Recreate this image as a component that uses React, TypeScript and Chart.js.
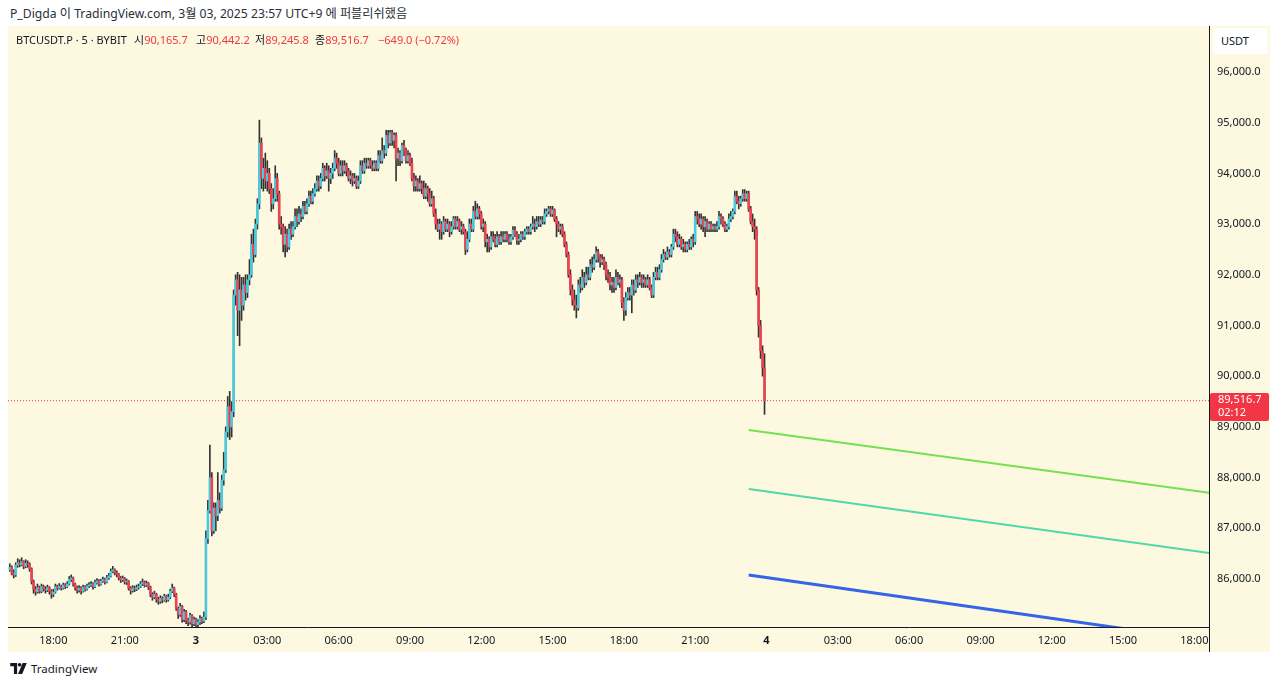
import React, { useEffect, useRef } from "react";
import { Chart, registerables } from "chart.js";

Chart.register(...registerables);

const FONT = '"Noto Sans", "Noto Sans CJK KR", sans-serif';

// time in hours relative to 2025-03-03 00:00 (UTC+9); first candle 16:10 on Mar 2, 5-minute bars
const START_HOUR = -7 - 50 / 60;
const INTERVAL_HOURS = 5 / 60;
const FIRST_OPEN = 86180;

const closes = [
  86230, 86120, 86080, 86270, 86320, 86280, 86340, 86250, 86310, 86290,
  86200, 85950, 85800, 85750, 85830, 85760, 85850, 85800, 85780, 85830,
  85760, 85700, 85740, 85850, 85820, 85860, 85820, 85880, 85850, 85900,
  85990, 86020, 85900, 85830, 85780, 85820, 85760, 85840, 85800, 85860,
  85880, 85900, 85850, 85930, 85960, 85900, 85960, 85990, 85940, 86020,
  86060, 86150, 86180, 86120, 86090, 86020, 85980, 86010, 85940, 85950,
  85820, 85770, 85820, 85800, 85830, 85850, 85900, 85930, 85880, 85910,
  85840, 85700, 85640, 85700, 85600, 85560, 85620, 85580, 85660, 85590,
  85640, 85760, 85820, 85700, 85420, 85300, 85460, 85200, 85350, 85180,
  85150, 85280, 85120, 85200, 85100, 85150, 85220, 85170, 85250, 86800,
  87350, 88000, 86950, 87400, 87250, 87550, 87400, 87950, 88150, 88900,
  89400, 89000, 89300, 91600, 91900, 91300, 91700, 91400, 91800, 91650,
  91900, 92000, 92600, 92400, 93000, 93400, 94600, 93900, 94100, 93850,
  94000, 93700, 93400, 93500, 93900, 93600, 93000, 92950, 92600, 92800,
  92550, 92900, 92800, 92950, 93150, 93050, 93200, 93150, 93350, 93250,
  93400, 93550, 93450, 93600, 93700, 93850, 93750, 93900, 94100, 93950,
  94050, 93900, 94000, 94100, 94300, 94200, 94000, 94150, 94050, 94150,
  94050, 93900, 93950, 93850, 93900, 93750, 93850, 94150, 94050, 94200,
  94150, 94250, 94150, 94100, 94200, 94100, 94350, 94250, 94450, 94400,
  94750, 94600, 94800, 94650, 94750, 94300, 94400, 94250, 94550, 94450,
  94250, 94350, 94200, 93900, 93750, 93850, 93700, 93800, 93700, 93550,
  93700, 93600, 93400, 93500, 93200, 93000, 92900, 93000, 92850, 93050,
  92900, 93000, 92850, 92950, 93100, 92950, 93050, 92900, 92950, 92850,
  92500, 92700, 93000, 92900, 93250, 93150, 93300, 93200, 92950, 93000,
  92650, 92700, 92550, 92750, 92700, 92600, 92750, 92650, 92750, 92700,
  92800, 92700, 92650, 92750, 92880, 92800, 92680, 92700, 92800, 92750,
  92850, 92900, 92850, 92950, 93000, 92950, 93050, 93000, 93080, 93050,
  93200, 93250, 93300, 93200, 93280, 93100, 93000, 92900, 92950, 92800,
  92600, 92400, 92000, 91700, 91500, 91400, 91350, 91800, 91750, 91950,
  91850, 92000, 91950, 92200, 92150, 92300, 92450, 92350, 92250, 92300,
  92200, 92000, 91950, 91800, 91850, 91750, 91950, 91850, 91900, 91450,
  91300, 91550, 91650, 91600, 91800, 91700, 91900, 91850, 91950, 91850,
  91900, 91800, 91900, 91750, 91600, 91950, 92050, 91950, 92100, 92300,
  92400, 92350, 92450, 92400, 92550, 92800, 92750, 92600, 92700, 92550,
  92600, 92500, 92600, 92550, 92700, 92650, 93150, 93100, 93000, 93100,
  92950, 93050, 92900, 93000, 92900, 92950, 92900, 92950, 93150, 93100,
  93000, 92900, 92950, 93100, 93150, 93250, 93550, 93450, 93400, 93500,
  93600, 93500, 93600, 93300, 93050, 92950, 92900, 91700, 91000, 90500,
  90165.7, 89516.7,
];

const highs = [
  86300, 86260, 86180, 86320, 86400, 86380, 86420, 86360, 86380, 86360,
  86320, 86220, 85980, 85850, 85900, 85860, 85900, 85880, 85850, 85880,
  85850, 85790, 85800, 85900, 85880, 85910, 85880, 85920, 85910, 85950,
  86050, 86080, 86040, 85920, 85860, 85870, 85850, 85880, 85870, 85900,
  85930, 85950, 85930, 85980, 86010, 85990, 86000, 86040, 86020, 86070,
  86110, 86200, 86250, 86200, 86160, 86110, 86050, 86060, 86030, 86000,
  85970, 85850, 85870, 85860, 85880, 85900, 85950, 86000, 85960, 85960,
  85930, 85860, 85730, 85760, 85720, 85640, 85670, 85650, 85700, 85680,
  85700, 85800, 85900, 85840, 85720, 85450, 85520, 85480, 85400, 85380,
  85230, 85330, 85300, 85250, 85230, 85200, 85280, 85250, 85350, 86950,
  87550, 88640, 88100, 87500, 87500, 88100, 87700, 88050, 88500, 89000,
  89600, 89700, 89500, 91700, 92000, 92050, 92000, 91950, 91950, 92000,
  92000, 92300, 92800, 92900, 93100, 93500, 95050, 94700, 94300, 94400,
  94250, 94100, 93800, 93700, 94150, 94000, 93650, 93150, 93000, 92950,
  92900, 93000, 93050, 93050, 93300, 93300, 93350, 93300, 93450, 93450,
  93500, 93650, 93650, 93700, 93800, 93950, 93950, 94000, 94200, 94150,
  94200, 94150, 94100, 94200, 94450, 94400, 94300, 94250, 94250, 94250,
  94200, 94100, 94050, 94000, 94000, 93950, 93950, 94250, 94250, 94300,
  94300, 94300, 94300, 94250, 94250, 94250, 94450, 94450, 94700, 94550,
  94850, 94850, 94850, 94850, 94800, 94800, 94500, 94450, 94600, 94650,
  94500, 94450, 94400, 94300, 94000, 93950, 93900, 93950, 93850, 93850,
  93800, 93750, 93700, 93650, 93550, 93300, 93100, 93100, 93050, 93150,
  93100, 93100, 93050, 93050, 93150, 93150, 93150, 93100, 93050, 93000,
  92900, 92850, 93100, 93100, 93350, 93450, 93400, 93350, 93250, 93100,
  93050, 92800, 92750, 92850, 92850, 92800, 92850, 92800, 92850, 92850,
  92850, 92850, 92800, 92800, 92950, 92950, 92850, 92800, 92850, 92850,
  92900, 92950, 92950, 93000, 93150, 93100, 93150, 93150, 93150, 93150,
  93300, 93300, 93350, 93350, 93350, 93300, 93150, 93050, 93000, 93000,
  92850, 92650, 92450, 92100, 91800, 91700, 91600, 91900, 91950, 92100,
  92050, 92150, 92150, 92300, 92350, 92400, 92550, 92500, 92400, 92400,
  92350, 92250, 92100, 92050, 91950, 91950, 92100, 92050, 92000, 91950,
  91550, 91650, 91750, 91750, 91900, 91900, 92000, 92000, 92050, 92000,
  92000, 91950, 92000, 91950, 91800, 92050, 92150, 92150, 92200, 92400,
  92500, 92450, 92550, 92500, 92600, 92900, 92900, 92850, 92800, 92750,
  92700, 92650, 92650, 92700, 92750, 92800, 93250, 93250, 93200, 93200,
  93150, 93150, 93100, 93050, 93050, 93000, 93000, 93050, 93250, 93200,
  93150, 93050, 93000, 93200, 93250, 93300, 93650, 93650, 93550, 93550,
  93680, 93680, 93650, 93650, 93350, 93200, 93100, 92950, 91750, 91100,
  90600, 90442.2,
];

const lows = [
  86150, 86080, 86020, 86050, 86230, 86240, 86260, 86200, 86220, 86230,
  86150, 85900, 85720, 85680, 85720, 85720, 85730, 85760, 85720, 85750,
  85700, 85620, 85650, 85720, 85780, 85800, 85780, 85800, 85810, 85830,
  85880, 85950, 85860, 85780, 85720, 85740, 85700, 85740, 85760, 85780,
  85830, 85850, 85800, 85830, 85900, 85860, 85880, 85930, 85900, 85920,
  85990, 86040, 86120, 86080, 86040, 85980, 85930, 85950, 85900, 85890,
  85780, 85700, 85740, 85750, 85770, 85800, 85830, 85870, 85840, 85850,
  85790, 85650, 85580, 85610, 85540, 85500, 85520, 85530, 85560, 85540,
  85560, 85610, 85730, 85650, 85380, 85220, 85260, 85150, 85160, 85120,
  85080, 85110, 85060, 85080, 85050, 85060, 85100, 85120, 85140, 85200,
  86700, 87300, 86850, 86900, 86950, 87150, 87300, 87350, 87850, 88100,
  88800, 88750, 88800, 89200, 91400, 90800, 90600, 91100, 91300, 91500,
  91550, 91800, 91950, 92250, 92350, 92900, 93300, 93700, 93650, 93700,
  93650, 93600, 93250, 93300, 93450, 93450, 92900, 92800, 92450, 92350,
  92450, 92500, 92700, 92750, 92900, 92950, 93000, 93050, 93100, 93200,
  93200, 93350, 93400, 93400, 93550, 93650, 93650, 93700, 93850, 93850,
  93900, 93650, 93800, 93900, 94050, 94100, 93950, 93950, 93950, 94000,
  93950, 93850, 93800, 93750, 93800, 93700, 93700, 93800, 94000, 94000,
  94100, 94100, 94100, 94050, 94050, 94050, 94050, 94200, 94200, 94300,
  94350, 94500, 94550, 94550, 94500, 93850, 94150, 94150, 94200, 94350,
  94200, 94200, 94150, 93850, 93650, 93650, 93650, 93650, 93600, 93500,
  93500, 93450, 93350, 93350, 93150, 92900, 92850, 92700, 92700, 92800,
  92850, 92850, 92750, 92800, 92900, 92900, 92900, 92850, 92800, 92800,
  92400, 92450, 92650, 92850, 92850, 93100, 93100, 93100, 92900, 92850,
  92550, 92450, 92450, 92500, 92650, 92550, 92550, 92600, 92600, 92650,
  92650, 92650, 92600, 92600, 92700, 92750, 92600, 92600, 92650, 92700,
  92700, 92800, 92800, 92800, 92900, 92850, 92900, 92950, 92950, 93000,
  93000, 93150, 93200, 93150, 93150, 93050, 92750, 92850, 92800, 92750,
  92550, 92350, 91950, 91600, 91400, 91300, 91150, 91300, 91650, 91700,
  91750, 91800, 91900, 91900, 92050, 92100, 92250, 92250, 92150, 92200,
  92100, 91900, 91850, 91700, 91650, 91650, 91700, 91800, 91750, 91350,
  91100, 91200, 91500, 91500, 91250, 91600, 91650, 91750, 91800, 91750,
  91750, 91750, 91750, 91700, 91550, 91550, 91900, 91900, 91900, 92050,
  92250, 92300, 92300, 92350, 92350, 92500, 92650, 92550, 92550, 92500,
  92450, 92450, 92450, 92500, 92500, 92550, 92600, 93000, 92950, 92900,
  92850, 92750, 92850, 92850, 92850, 92850, 92850, 92850, 92900, 93000,
  92950, 92850, 92850, 92900, 93050, 93100, 93200, 93400, 93300, 93350,
  93450, 93450, 93450, 93250, 93000, 92850, 92700, 91600, 90770, 90350,
  90000, 89245.8,
];

const xTickHours = [-6, -3, 0, 3, 6, 9, 12, 15, 18, 21, 24, 27, 30, 33, 36, 39, 42];
const xTickLabels = [
  "18:00", "21:00", "3", "03:00", "06:00", "09:00", "12:00", "15:00", "18:00",
  "21:00", "4", "03:00", "06:00", "09:00", "12:00", "15:00", "18:00",
];
const priceTicks = [86000, 87000, 88000, 89000, 90000, 91000, 92000, 93000, 94000, 95000, 96000];

const projHours = [23.25, 42.62];
const projGreen = [88940, 87700];
const projTeal = [87775, 86510];
const projBlue = [86080, 84780];

const lastPrice = 89516.7;
const countdown = "02:12";

const X_MIN = -7.909;
const X_MAX = 42.615;
const Y_MIN = 85053;
const Y_MAX = 96907;

const UP = "#4cc9dc";
const DOWN = "#ea4352";
const WICK = "#333333";
const RED = "#f23645";
const TEXT = "#131722";
const BG = "#fdf9e1";

const fmt = (v: number) =>
  v.toLocaleString("en-US", { minimumFractionDigits: 1, maximumFractionDigits: 1 });

const overlayPlugin = {
  id: "overlay",
  afterDraw(chart: any) {
    const { ctx, chartArea, scales } = chart;
    const y = scales.y;
    const py = y.getPixelForValue(lastPrice);
    ctx.save();
    ctx.strokeStyle = TEXT;
    ctx.lineWidth = 1;
    ctx.beginPath();
    ctx.moveTo(Math.round(chartArea.right) + 0.5, 0);
    ctx.lineTo(Math.round(chartArea.right) + 0.5, chart.height);
    ctx.stroke();
    const bx = Math.round(chartArea.right) + 1;
    ctx.fillStyle = RED;
    ctx.beginPath();
    ctx.roundRect(bx, Math.round(py) - 8, 59, 28, 2);
    ctx.fill();
    ctx.fillStyle = "#ffffff";
    ctx.font = `11px ${FONT}`;
    ctx.textBaseline = "middle";
    ctx.textAlign = "left";
    ctx.fillText(fmt(lastPrice), bx + 8, Math.round(py) - 1);
    ctx.fillText(countdown, bx + 8, Math.round(py) + 12);
    ctx.restore();
  },
};

function TVLogo() {
  return (
    <svg width="17" height="11" viewBox="0 0 36 24" style={{ display: "block" }}>
      <path d="M0 0h15v24H8V7H0z" fill={TEXT} />
      <circle cx="20.5" cy="4" r="4" fill={TEXT} />
      <path d="M27 0h9l-10 24h-9z" fill={TEXT} />
    </svg>
  );
}

export default function App() {
  const ref = useRef<HTMLCanvasElement | null>(null);

  useEffect(() => {
    if (!ref.current) return;
    const candles = closes.map((c, i) => {
      const o = i === 0 ? FIRST_OPEN : closes[i - 1];
      return { t: START_HOUR + i * INTERVAL_HOURS, o, h: highs[i], l: lows[i], c };
    });
    const bodyColors = candles.map((k) => (k.c >= k.o ? UP : DOWN));

    const chart = new Chart(ref.current, {
      type: "bar",
      data: {
        datasets: [
          {
            type: "line",
            data: [
              { x: X_MIN, y: lastPrice },
              { x: X_MAX, y: lastPrice },
            ],
            borderColor: RED,
            borderWidth: 1,
            borderDash: [1, 2],
            pointRadius: 0,
            order: 5,
          } as any,
          {
            type: "line",
            data: projHours.map((h, i) => ({ x: h, y: projGreen[i] })),
            borderColor: "#72e34f",
            borderWidth: 2,
            pointRadius: 0,
            order: 0,
          } as any,
          {
            type: "line",
            data: projHours.map((h, i) => ({ x: h, y: projTeal[i] })),
            borderColor: "#4fd9a6",
            borderWidth: 2,
            pointRadius: 0,
            order: 0,
          } as any,
          {
            type: "line",
            data: projHours.map((h, i) => ({ x: h, y: projBlue[i] })),
            borderColor: "#3763e8",
            borderWidth: 3,
            pointRadius: 0,
            order: 0,
          } as any,
          {
            type: "bar",
            data: candles.map((k) => ({ x: k.t, y: [k.o, k.c] })),
            backgroundColor: bodyColors,
            barThickness: 2,
            minBarLength: 1,
            grouped: false,
            order: 1,
          } as any,
          {
            type: "bar",
            data: candles.map((k) => ({ x: k.t, y: [k.l, k.h] })),
            backgroundColor: WICK,
            barThickness: 1,
            grouped: false,
            order: 2,
          } as any,
        ],
      },
      options: {
        animation: false,
        responsive: false,
        devicePixelRatio: 1,
        layout: { padding: 0 },
        plugins: { legend: { display: false }, tooltip: { enabled: false } },
        scales: {
          x: {
            type: "linear",
            min: X_MIN,
            max: X_MAX,
            offset: false,
            grid: { display: true, color: "rgba(0,0,0,0)", drawTicks: false, offset: false },
            border: { display: true, color: TEXT, width: 1 },
            afterBuildTicks: (s: any) => {
              s.ticks = xTickHours.map((v) => ({ value: v }));
            },
            afterFit: (s: any) => {
              s.height = 25;
              s.paddingLeft = 0;
              s.paddingRight = 0;
            },
            ticks: {
              autoSkip: false,
              maxRotation: 0,
              padding: 7,
              color: TEXT,
              font: (ctx: any) => ({
                family: FONT,
                size: 11,
                weight: ctx.tick && ctx.tick.value % 24 === 0 ? "bold" : "normal",
              }),
              callback: (_v: any, i: number) => xTickLabels[i],
            },
          },
          y: {
            type: "linear",
            position: "right",
            min: Y_MIN,
            max: Y_MAX,
            beginAtZero: false,
            grid: { display: true, color: "rgba(0,0,0,0)", drawTicks: false },
            border: { display: false },
            afterBuildTicks: (s: any) => {
              s.ticks = priceTicks.map((v) => ({ value: v }));
            },
            afterFit: (s: any) => {
              s.width = 61;
              s.paddingTop = 0;
              s.paddingBottom = 0;
            },
            ticks: {
              padding: 8,
              color: TEXT,
              font: { family: FONT, size: 11 },
              callback: (v: any) => fmt(Number(v)),
            },
          },
        },
      },
      plugins: [overlayPlugin],
    } as any);
    return () => chart.destroy();
  }, []);

  const legendItem = (label: string, value: string, left: number) => (
    <span style={{ position: "absolute", left, top: 0, whiteSpace: "nowrap" }}>
      <span style={{ color: TEXT }}>{label}</span>
      <span style={{ color: RED }}>{value}</span>
    </span>
  );

  return (
    <div
      style={{
        position: "fixed",
        left: 0,
        top: 0,
        width: 1280,
        height: 685,
        background: "#ffffff",
        fontFamily: FONT,
        overflow: "hidden",
      }}
    >
      <div style={{ position: "absolute", left: 10, top: 4, fontSize: 12.2, color: "#2a2e39", whiteSpace: "nowrap" }}>
        P_Digda 이 TradingView.com, 3월 03, 2025 23:57 UTC+9 에 퍼블리쉬했음
      </div>
      <div style={{ position: "absolute", left: 8, top: 26, width: 1262, height: 626, background: BG }}>
        <canvas ref={ref} width={1262} height={626} style={{ display: "block" }} />
        <div style={{ position: "absolute", left: 8, top: 7, fontSize: 11, lineHeight: "14px", height: 14, width: 480 }}>
          <span style={{ position: "absolute", left: 0, top: 0, color: TEXT, whiteSpace: "nowrap" }}>
            BTCUSDT.P · 5 · BYBIT
          </span>
          {legendItem("시", "90,165.7", 118)}
          {legendItem("고", "90,442.2", 180)}
          {legendItem("저", "89,245.8", 239)}
          {legendItem("종", "89,516.7", 299)}
          <span style={{ position: "absolute", left: 362, top: 0, color: RED, whiteSpace: "nowrap" }}>
            −649.0 (−0.72%)
          </span>
        </div>
        <div
          style={{
            position: "absolute",
            left: 1205,
            top: 2,
            width: 55,
            height: 26,
            background: "#ffffff",
            borderRadius: 4,
            fontSize: 11,
            color: TEXT,
            lineHeight: "26px",
            paddingLeft: 8,
            boxSizing: "border-box",
          }}
        >
          USDT
        </div>
      </div>
      <div style={{ position: "absolute", left: 10, top: 661, display: "flex", alignItems: "center", gap: 4 }}>
        <TVLogo />
        <span style={{ fontSize: 11.5, color: TEXT }}>TradingView</span>
      </div>
    </div>
  );
}
